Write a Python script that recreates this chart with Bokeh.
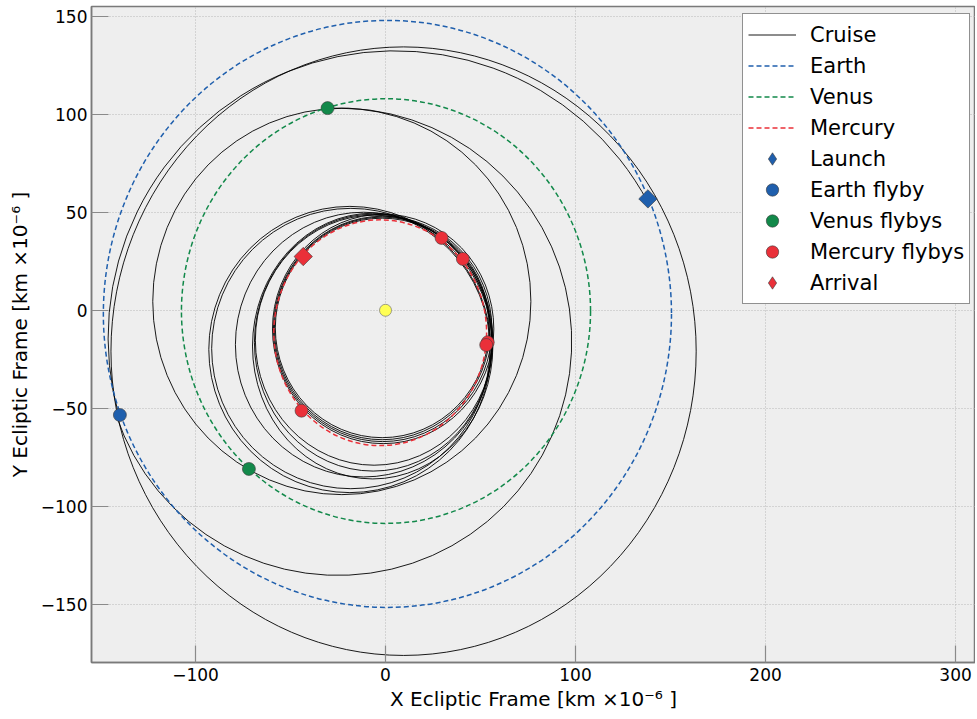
import numpy as np
from bokeh.plotting import figure
from bokeh.models import Range1d, Legend, LegendItem, FixedTicker, ColumnDataSource
from bokeh.embed import file_html
from bokeh.resources import INLINE

# ---------------- data (km x 1e-6) ----------------
# Planet orbits: extents (x min, x max, y min, y max)
planets = ["Earth", "Venus", "Mercury"]
planet_xmin = [-148.5, -107.4, -58.8]
planet_xmax = [150.5, 107.9, 53.2]
planet_ymin = [-151.5, -108.7, -69.0]
planet_ymax = [147.8, 107.9, 46.1]

# Cruise: closed heliocentric loops, extents (x min, x max, y min, y max)
loop_xmin = [-144.5, -122.5, -93.0, -91.5, -79.0, -70.0, -69.0, -68.5, -59.5, -59.0, -58.5, -58.0]
loop_xmax = [163.5, 76.5, 55.5, 55.0, 56.0, 56.5, 56.0, 56.5, 57.0, 56.0, 55.0, 54.5]
loop_ymin = [-176.0, -94.0, -93.0, -91.0, -85.0, -86.0, -82.0, -79.0, -68.0, -67.0, -66.0, -65.0]
loop_ymax = [134.3, 103.0, 53.0, 52.0, 50.0, 49.5, 49.0, 48.5, 49.0, 48.0, 47.5, 47.0]

# Cruise: open arcs (launch -> Earth flyby, Earth flyby -> Venus flyby)
arc_center_x = [5.0, -25.0]
arc_center_y = [-14.0, -16.0]
arc_radius = [151.0, 123.0]
arc_start_deg = [28.0, 198.5]
arc_end_deg = [196.0, 452.8]

# Events
launch_x, launch_y = [138.1], [56.8]
earth_flyby_x, earth_flyby_y = [-139.8], [-53.4]
venus_flyby_x, venus_flyby_y = [-71.9, -30.5], [-80.9, 103.1]
mercury_flyby_x = [29.5, 40.7, 53.8, 53.0, -44.2]
mercury_flyby_y = [36.9, 26.2, -16.3, -17.7, -51.2]
arrival_x, arrival_y = [-43.3], [27.4]
sun_x, sun_y = [0.0], [0.0]

x_ticks = [-100, 0, 100, 200, 300]
x_tick_labels = ["\u2212100", "0", "100", "200", "300"]
y_ticks = [-150, -100, -50, 0, 50, 100, 150]
y_tick_labels = ["\u2212150", "\u2212100", "\u221250", "0", "50", "100", "150"]


def extents_to_ellipse(xmin, xmax, ymin, ymax):
    xmin, xmax = np.asarray(xmin, float), np.asarray(xmax, float)
    ymin, ymax = np.asarray(ymin, float), np.asarray(ymax, float)
    return dict(x=(xmin + xmax) / 2, y=(ymin + ymax) / 2,
                width=xmax - xmin, height=ymax - ymin)


BLUE = "#1f5fad"
GREEN = "#12894a"
RED = "#ea3039"
FONT = "DejaVu Sans"
NAN = [np.nan]

p = figure(frame_width=884, frame_height=656,
           x_range=Range1d(-154.74, 310.5), y_range=Range1d(-179.6, 154.9),
           output_backend="svg", toolbar_location=None,
           min_border_left=91, min_border_right=0, min_border_top=6,
           background_fill_color="#eeeeee", border_fill_color="white",
           outline_line_color="#7a7a7a", outline_line_width=1.5)

# ---- cruise trajectory ----
loops = ColumnDataSource(extents_to_ellipse(loop_xmin, loop_xmax, loop_ymin, loop_ymax))
p.ellipse(x="x", y="y", width="width", height="height", source=loops,
          fill_color=None, line_color="black", line_width=0.9)
arcs = ColumnDataSource(dict(x=arc_center_x, y=arc_center_y, r=arc_radius,
                             s=np.radians(arc_start_deg), e=np.radians(arc_end_deg)))
cruise_r = p.arc(x="x", y="y", radius="r", start_angle="s", end_angle="e", source=arcs,
                 line_color="black", line_width=0.9)

# ---- planet orbits ----
colors = [BLUE, GREEN, RED]
pe = extents_to_ellipse(planet_xmin, planet_xmax, planet_ymin, planet_ymax)
pe["color"] = colors
psrc = ColumnDataSource(pe)
p.ellipse(x="x", y="y", width="width", height="height", source=psrc,
          fill_color=None, line_color="color", line_width=1.5, line_dash="5 3")
planet_proxies = [p.line(x=NAN, y=NAN, line_color=c, line_width=1.5, line_dash="5 3") for c in colors]

# ---- markers ----
edge = "#3a3a3a"
p.scatter(sun_x, sun_y, marker="circle", size=12, fill_color="#ffff55", line_color="#777777", line_width=0.7)
p.scatter(launch_x, launch_y, marker="square", angle=np.pi / 4, size=13,
          fill_color=BLUE, line_color=edge, line_width=0.6)
r_ef = p.scatter(earth_flyby_x, earth_flyby_y, marker="circle", size=13,
                 fill_color=BLUE, line_color=edge, line_width=0.6)
r_vf = p.scatter(venus_flyby_x, venus_flyby_y, marker="circle", size=13,
                 fill_color=GREEN, line_color=edge, line_width=0.6)
r_mf = p.scatter(mercury_flyby_x, mercury_flyby_y, marker="circle", size=13,
                 fill_color=RED, line_color=edge, line_width=0.6)
p.scatter(arrival_x, arrival_y, marker="square", angle=np.pi / 4, size=13,
          fill_color=RED, line_color=edge, line_width=0.6)
# legend proxies for the diamond markers (legend glyphs are drawn unrotated)
launch_proxy = p.scatter(NAN, NAN, marker="diamond", size=13, fill_color=BLUE, line_color=edge, line_width=0.6)
arrival_proxy = p.scatter(NAN, NAN, marker="diamond", size=13, fill_color=RED, line_color=edge, line_width=0.6)

# ---- axes ----
for ax, ticks, labels in ((p.xaxis[0], x_ticks, x_tick_labels), (p.yaxis[0], y_ticks, y_tick_labels)):
    ax.ticker = FixedTicker(ticks=ticks)
    ax.major_label_overrides = {t: l for t, l in zip(ticks, labels)}
    ax.minor_tick_line_color = None
    ax.major_tick_in = 17
    ax.major_tick_out = 0
    ax.major_tick_line_color = "#8a8a8a"
    ax.major_tick_line_width = 1.2
    ax.axis_line_color = "#7a7a7a"
    ax.axis_line_width = 1.5
    ax.major_label_text_font = FONT
    ax.major_label_text_font_size = "17px"
    ax.major_label_text_color = "black"
    ax.axis_label_text_font = FONT
    ax.axis_label_text_font_size = "20px"
    ax.axis_label_text_font_style = "normal"
    ax.axis_label_text_color = "black"

p.xaxis.axis_label = "X Ecliptic Frame [km \u00d710\u207b\u2076 ]"
p.yaxis.axis_label = "Y Ecliptic Frame [km \u00d710\u207b\u2076 ]"
p.xaxis.major_label_standoff = 5
p.yaxis.major_label_standoff = 4
p.xaxis.axis_label_standoff = 3
p.yaxis.axis_label_standoff = 6

p.xgrid.ticker = FixedTicker(ticks=x_ticks)
p.ygrid.ticker = FixedTicker(ticks=y_ticks)
for g in (p.xgrid[0], p.ygrid[0]):
    g.grid_line_color = "#b8b8b8"
    g.grid_line_dash = "1 2"
    g.grid_line_width = 1

# ---- legend ----
legend = Legend(items=[
    LegendItem(label="Cruise", renderers=[cruise_r]),
    LegendItem(label="Earth", renderers=[planet_proxies[0]]),
    LegendItem(label="Venus", renderers=[planet_proxies[1]]),
    LegendItem(label="Mercury", renderers=[planet_proxies[2]]),
    LegendItem(label="Launch", renderers=[launch_proxy]),
    LegendItem(label="Earth flyby", renderers=[r_ef]),
    LegendItem(label="Venus flybys", renderers=[r_vf]),
    LegendItem(label="Mercury flybys", renderers=[r_mf]),
    LegendItem(label="Arrival", renderers=[arrival_proxy]),
], location=(651, 358), orientation="vertical")
legend.label_text_font = FONT
legend.label_text_font_size = "21px"
legend.label_text_color = "black"
legend.glyph_width = 48
legend.glyph_height = 31
legend.label_height = 31
legend.label_standoff = 14
legend.spacing = 0
legend.padding = 5
legend.margin = 0
legend.border_line_color = "#222222"
legend.border_line_width = 1
legend.background_fill_color = "white"
legend.background_fill_alpha = 1.0
p.add_layout(legend)

open("out.html", "w").write(file_html(p, INLINE))
